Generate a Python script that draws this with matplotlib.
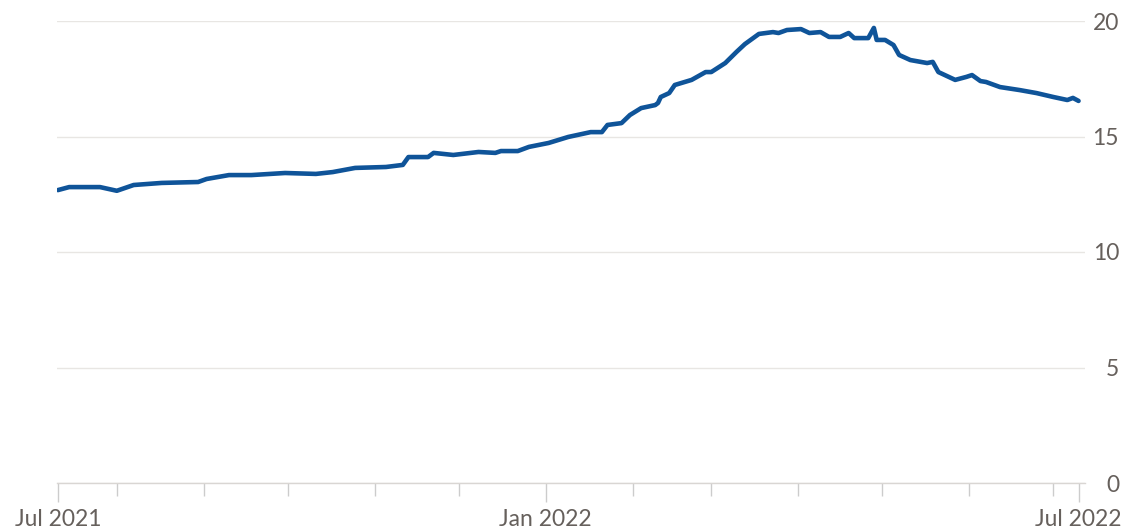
import matplotlib
matplotlib.use("Agg")
import matplotlib.pyplot as plt
import pandas as pd

# ---- data ----
dates = [
    "2021-07-11", "2021-07-15", "2021-07-26", "2021-08-01", "2021-08-07", "2021-08-17",
    "2021-08-30", "2021-09-02", "2021-09-10", "2021-09-18", "2021-09-30", "2021-10-11",
    "2021-10-17", "2021-10-25", "2021-11-05", "2021-11-11", "2021-11-13", "2021-11-20",
    "2021-11-22", "2021-11-29", "2021-12-08", "2021-12-14", "2021-12-16", "2021-12-22",
    "2021-12-26", "2022-01-02", "2022-01-09", "2022-01-17", "2022-01-21", "2022-01-23",
    "2022-01-28", "2022-01-31", "2022-02-04", "2022-02-09", "2022-02-10", "2022-02-11",
    "2022-02-14", "2022-02-16", "2022-02-22", "2022-02-27", "2022-03-01", "2022-03-06",
    "2022-03-10", "2022-03-13", "2022-03-18", "2022-03-23", "2022-03-25", "2022-03-28",
    "2022-04-02", "2022-04-05", "2022-04-09", "2022-04-12", "2022-04-16", "2022-04-19",
    "2022-04-21", "2022-04-26", "2022-04-28", "2022-04-29", "2022-05-02", "2022-05-05",
    "2022-05-07", "2022-05-11", "2022-05-17", "2022-05-19", "2022-05-21", "2022-05-27",
    "2022-05-31", "2022-06-02", "2022-06-05", "2022-06-07", "2022-06-12", "2022-06-19",
    "2022-06-25", "2022-07-01", "2022-07-06", "2022-07-08", "2022-07-10",
]
values = [
    12.68, 12.81, 12.81, 12.65, 12.90, 12.99,
    13.03, 13.16, 13.33, 13.33, 13.42, 13.38,
    13.46, 13.64, 13.68, 13.77, 14.11, 14.11,
    14.29, 14.20, 14.33, 14.29, 14.37, 14.37,
    14.55, 14.72, 14.98, 15.19, 15.19, 15.50,
    15.58, 15.93, 16.23, 16.36, 16.45, 16.71,
    16.88, 17.23, 17.45, 17.79, 17.79, 18.18,
    18.66, 19.00, 19.44, 19.52, 19.48, 19.61,
    19.65, 19.48, 19.52, 19.31, 19.31, 19.48,
    19.26, 19.26, 19.70, 19.18, 19.18, 18.96,
    18.53, 18.31, 18.18, 18.23, 17.79, 17.45,
    17.58, 17.66, 17.40, 17.36, 17.14, 17.01,
    16.88, 16.71, 16.58, 16.67, 16.54,
]
y_ticks = [0, 5, 10, 15, 20]
x_labels = ["Jul 2021", "Jan 2022", "Jul 2022"]

x = pd.to_datetime(dates)

plt.rcParams["font.family"] = ["Lato", "DejaVu Sans"]

fig = plt.figure(figsize=(11.28, 5.30), dpi=100)
ax = fig.add_axes([57 / 1128, 1 - 483 / 530, (1085 - 57) / 1128, (483 - 21) / 530])

ax.plot(x, values, color="#0f5499", linewidth=3.3, solid_joinstyle="round",
        solid_capstyle="round", zorder=3)

ax.set_ylim(0, 20)
ax.set_xlim(x[0] - pd.Timedelta(hours=8), x[-1] + pd.Timedelta(days=2.3))

# y axis on the right, gridlines
ax.yaxis.tick_right()
ax.set_yticks(y_ticks)
ax.set_yticklabels([str(v) for v in y_ticks])
ax.tick_params(axis="y", length=0, pad=24.5, labelsize=16.5, labelcolor="#66605c")
for lbl in ax.get_yticklabels():
    lbl.set_horizontalalignment("right")
    lbl.set_verticalalignment("center_baseline")
ax.grid(axis="y", color="#e8e6e3", linewidth=1.0, zorder=0)

# x axis ticks: labelled ends + Jan, monthly minor ticks
major = [x[0], pd.Timestamp("2022-01-01"), x[-1]]
ax.set_xticks(major)
ax.set_xticklabels(x_labels)
minor = pd.date_range("2021-08-01", "2022-07-01", freq="MS")
ax.set_xticks(minor, minor=True)
ax.tick_params(axis="x", which="major", length=14, width=1.0, color="#cccccc",
               labelsize=16.5, labelcolor="#66605c", pad=5)
ax.tick_params(axis="x", which="minor", length=9, width=1.0, color="#cccccc")

for s in ["top", "right", "left"]:
    ax.spines[s].set_visible(False)
ax.spines["bottom"].set_color("#d9d6d3")
ax.spines["bottom"].set_linewidth(1.0)

fig.savefig("out.png", dpi=100, facecolor="white")
